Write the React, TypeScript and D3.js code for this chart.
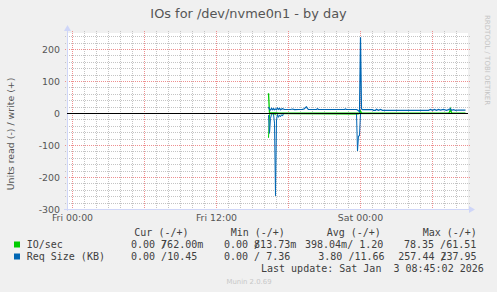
import React, { useEffect } from 'react';
import * as d3 from 'd3';

const W = 497;
const H = 292;

// minutes since Fri 00:00
const xDomain: [number, number] = [-25, 1975];
const xTickMinutes = [0, 720, 1440];
const xTickLabels = ['Fri 00:00', 'Fri 12:00', 'Sat 00:00'];
const yTicks = [-300, -200, -100, 0, 100, 200];
const yDomain: [number, number] = [-300, 250];

// IO/sec (green)
const ioRead: [number, number][] = [
  [980, -76], [985, -3], [990, -1], [1010, -2], [1015, -4], [1020, -0.5],
  [1425, -2], [1430, -1.5], [1435, -0.5], [1965, 0],
];
const ioWrite: [number, number][] = [
  [980, 63], [985, 2], [990, 1.5], [1020, 2], [1030, 1.2], [1435, 1.2],
  [1440, 8], [1445, 1.5], [1450, 1.2], [1880, 1.2], [1885, 4], [1890, 14],
  [1895, 1.5], [1900, 1], [1965, 0.76],
];
// Req Size (KB) (blue)
const reqRead: [number, number][] = [
  [980, -5], [985, -62], [990, -15], [995, -3], [1000, 0], [1005, -2],
  [1010, -30], [1015, -257], [1020, -20], [1025, -3], [1030, -12], [1035, -5],
  [1040, -10], [1045, -4], [1050, -8], [1055, 0], [1420, 0], [1425, -117],
  [1430, -70], [1435, -70], [1440, 0], [1965, 0],
];
const reqWrite: [number, number][] = [
  [980, 20], [985, 13], [990, 11], [995, 16], [1000, 12], [1005, 15], [1010, 12],
  [1015, 14], [1020, 12], [1025, 17], [1030, 13], [1035, 16], [1040, 12],
  [1050, 15], [1060, 12.5], [1090, 12.5], [1100, 14], [1110, 12], [1130, 12.5],
  [1150, 13], [1160, 15], [1165, 19], [1170, 21], [1175, 15], [1180, 12.5],
  [1220, 12.5], [1225, 15], [1230, 12.5], [1360, 12.5], [1365, 14], [1370, 12.5],
  [1420, 12.5], [1425, 11], [1430, 8], [1435, 5], [1440, 238], [1445, 14],
  [1450, 12], [1500, 12], [1505, 10], [1515, 10], [1520, 13], [1530, 10],
  [1540, 13], [1550, 10], [1780, 10], [1790, 13], [1800, 10], [1810, 13],
  [1820, 10], [1830, 13], [1840, 10.5], [1855, 13], [1870, 10], [1880, 12],
  [1890, 15], [1895, 10], [1905, 12], [1915, 10], [1930, 11], [1965, 10.45],
];

const legendNames = ['IO/sec', 'Req Size (KB)'];
const legendColors = ['#00cc00', '#0066b3'];
const legendHeaders = ['Cur (-/+)', 'Min (-/+)', 'Avg (-/+)', 'Max (-/+)'];
// [read part, write part, overlaps (write part drawn one char back over the slash)]
const legendRow1: [string, string, boolean][] = [
  ['0.00 /', '762.00m', true],
  ['0.00 /', '813.73m', true],
  ['398.04m/', ' 1.20', false],
  ['78.35 /', '61.51', false],
];
const legendRow2: [string, string, boolean][] = [
  ['0.00 /', '10.45', false],
  ['0.00 /', ' 7.36', false],
  ['3.80 /', '11.66', false],
  ['257.44 /', '237.95', true],
];
const lastUpdate = 'Last update: Sat Jan  3 08:45:02 2026';

const SANS = '"DejaVu Sans", sans-serif';
const MONO = '"DejaVu Sans Mono", monospace';
const CHAR = 6.02;

export default function App() {
  useEffect(() => {
    document.body.style.margin = '0';
  }, []);

  const x = d3.scaleLinear().domain(xDomain).range([67.5, 467.5]);
  const y = d3.scaleLinear().domain(yDomain).range([209.5, 33.5]);
  const crisp = (v: number) => Math.round(v - 0.5) + 0.5;

  const line = d3
    .line<[number, number]>()
    .x((d) => x(d[0]))
    .y((d) => y(d[1]));

  const hourLines = d3.range(0, 1975, 60).filter((m) => m % 360 !== 0);
  const majorX = d3.range(0, 1975, 360);
  const minorY = d3.range(-280, 250, 20).filter((v) => v % 100 !== 0);
  const majorY = yTicks.filter((v) => v !== 0 && v !== -300);

  const gridGray = '#c4c4c4';
  const gridRed = '#ee8f8f';
  const axisCol = '#cfd6f8';
  const fontCol = '#555';
  const legCol = '#404040';

  const colX = [134.3, 230.7, 326.7, 422.7];
  const row1X = [131, 224, 305, 404];
  const row2X = [131, 224, 318.3, 398.3];

  const valueText = (parts: [string, string, boolean], px: number, py: number, key: string) => (
    <text key={key} x={px} y={py} fontFamily={MONO} fontSize={10} fill={legCol} xmlSpace="preserve" style={{ whiteSpace: 'pre' }}>
      <tspan>{parts[0]}</tspan>
      <tspan dx={parts[2] ? -CHAR : 0}>{parts[1]}</tspan>
    </text>
  );

  return (
    <svg width={W} height={H} style={{ position: 'absolute', left: 0, top: 0, display: 'block' }}>
      <rect x={0} y={0} width={W} height={H} fill="#f0f0f0" />
      <rect x={67} y={33} width={401} height={176.5} fill="#ffffff" />

      {/* minor grid */}
      {hourLines.map((m) => (
        <line key={'hx' + m} x1={x(m)} x2={x(m)} y1={31} y2={211} stroke={gridGray} strokeWidth={1} strokeDasharray="1,1" />
      ))}
      {minorY.map((v) => (
        <line key={'hy' + v} x1={65} x2={470} y1={crisp(y(v))} y2={crisp(y(v))} stroke={gridGray} strokeWidth={1} strokeDasharray="1,1" />
      ))}
      {/* major grid */}
      {majorX.map((m) => (
        <line key={'mx' + m} x1={x(m)} x2={x(m)} y1={31} y2={211} stroke={gridRed} strokeWidth={1} strokeDasharray="1,1" />
      ))}
      {majorY.map((v) => (
        <line key={'my' + v} x1={65} x2={470} y1={crisp(y(v))} y2={crisp(y(v))} stroke={gridRed} strokeWidth={1} strokeDasharray="1,1" />
      ))}

      {/* axes */}
      <line x1={67.5} x2={67.5} y1={28} y2={211} stroke={axisCol} strokeWidth={1} />
      <line x1={64} x2={470} y1={209.5} y2={209.5} stroke={axisCol} strokeWidth={1} />
      <path d="M64,31 L71,31 L67.5,25 Z" fill={axisCol} />
      <path d="M469,206 L469,213 L475,209.5 Z" fill={axisCol} />

      {/* data */}
      <path d={line(ioRead) || ''} fill="none" stroke="#00cc00" strokeWidth={1} />
      <path d={line(ioWrite) || ''} fill="none" stroke="#00cc00" strokeWidth={1.3} />
      <path d={line(reqRead) || ''} fill="none" stroke="#0066b3" strokeWidth={1} />
      <path d={line(reqWrite) || ''} fill="none" stroke="#0066b3" strokeWidth={1.2} />

      {/* zero line */}
      <line x1={67} x2={468} y1={y(0)} y2={y(0)} stroke="#000000" strokeWidth={1} />

      {/* y tick labels */}
      {yTicks.map((v) => (
        <text key={'yl' + v} x={60} y={y(v)} dy="0.35em" textAnchor="end" fontFamily={SANS} fontSize={9.4} fill={fontCol}>
          {v}
        </text>
      ))}
      {/* x tick labels */}
      {xTickMinutes.map((m, i) => (
        <text key={'xl' + m} x={x(m)} y={220.5} textAnchor="middle" fontFamily={SANS} fontSize={9.4} fill={fontCol}>
          {xTickLabels[i]}
        </text>
      ))}

      {/* title */}
      <text x={248.5} y={18} textAnchor="middle" fontFamily={SANS} fontSize={12.9} fill={fontCol}>
        IOs for /dev/nvme0n1 - by day
      </text>
      {/* y axis label */}
      <text transform="translate(13.5,134) rotate(-90)" textAnchor="middle" fontFamily={SANS} fontSize={9.4} fill={fontCol}>
        Units read (-) / write (+)
      </text>
      {/* watermark */}
      <text transform="translate(484.5,15) rotate(90)" fontFamily={SANS} fontSize={7} fill="#c4c4c4">
        RRDTOOL / TOBI OETIKER
      </text>

      {/* legend */}
      {legendHeaders.map((h, i) => (
        <text key={'lh' + i} x={colX[i]} y={236} fontFamily={MONO} fontSize={10} fill={legCol} xmlSpace="preserve" style={{ whiteSpace: 'pre' }}>
          {h}
        </text>
      ))}
      {legendNames.map((n, i) => (
        <g key={'ln' + i}>
          <rect x={14} y={241.5 + i * 12} width={6} height={6} fill={legendColors[i]} />
          <text x={26.7} y={248 + i * 12} fontFamily={MONO} fontSize={10} fill={legCol} xmlSpace="preserve" style={{ whiteSpace: 'pre' }}>
            {n}
          </text>
        </g>
      ))}
      {legendRow1.map((s, i) => valueText(s, row1X[i], 248, 'r1' + i))}
      {legendRow2.map((s, i) => valueText(s, row2X[i], 260, 'r2' + i))}

      <text x={261} y={272} fontFamily={MONO} fontSize={10} fill={legCol} xmlSpace="preserve" style={{ whiteSpace: 'pre' }}>
        {lastUpdate}
      </text>
      <text x={249} y={284} textAnchor="middle" fontFamily={SANS} fontSize={6.9} fill="#c8c8c8">
        Munin 2.0.69
      </text>
    </svg>
  );
}
